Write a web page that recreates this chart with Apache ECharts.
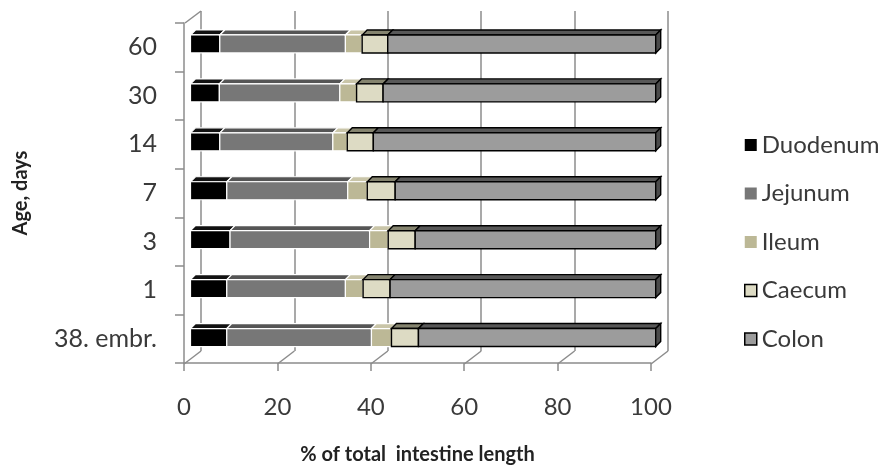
<!DOCTYPE html>
<html><head><meta charset="utf-8">
<script src="https://cdn.jsdelivr.net/npm/echarts@6/dist/echarts.min.js"></script>
<style>html,body{margin:0;padding:0;background:#fff}#c{width:885px;height:470px}</style>
</head><body><div id="c"></div>
<script>
// ---- data ----
const categories = ['38. embr.', '1', '3', '7', '14', '30', '60'];
const duodenum = [7.8, 7.8, 8.5, 7.8, 6.3, 6.2, 6.3];
const jejunum  = [31.1, 25.5, 30.0, 26.0, 24.3, 25.9, 27.0];
const ileum    = [4.3, 3.8, 4.0, 4.2, 3.1, 3.6, 3.6];
const caecum   = [5.8, 5.8, 5.8, 6.0, 5.6, 5.7, 5.5];
const colon    = [51.0, 57.1, 51.7, 56.0, 60.7, 58.6, 57.6];
const xTicks   = [0, 20, 40, 60, 80, 100];
const seriesNames = ['Duodenum', 'Jejunum', 'Ileum', 'Caecum', 'Colon'];

// ---- styles ----
const FONT = "Lato, 'Open Sans', sans-serif";
const AXIS = '#8c8c8c';
const segStyle = [
  {front: '#000000', top: '#111111', stroke: '#ffffff'},
  {front: '#777777', top: '#555555', stroke: '#ffffff'},
  {front: '#bcb896', top: '#c9c5a8', stroke: '#ffffff'},
  {front: '#dddbc4', top: '#85846f', stroke: '#000000'},
  {front: '#9c9c9c', top: '#585858', stroke: '#000000', side: '#4a4a4a'}
];
const G0 = {left: 184, right: 234, top: 23, bottom: 106};      // front frame
const G1 = {left: 201, right: 217, top: 11, bottom: 119};      // back wall
const G2 = {left: 190.5, right: 229.3, top: 19.5, bottom: 108}; // bars

const valueSets = [duodenum, jejunum, ileum, caecum, colon];
const starts = categories.map(() => 0);
const segData = valueSets.map(vals => vals.map((v, i) => {
  const s = starts[i]; starts[i] = s + v; return [s, s + v, i];
}));

function makeRender(k) {
  const st = segStyle[k];
  return function (params, api) {
    const s = api.value(0), e = api.value(1), c = api.value(2);
    const p0 = api.coord([s, c]), p1 = api.coord([e, c]);
    const h = 18, dx = 5, dy = 5;
    const yT = p0[1] - h / 2, yB = p0[1] + h / 2;
    const x0 = p0[0], x1 = p1[0];
    const lw = st.stroke === '#000000' ? 1.4 : 1.2;
    const children = [
      {type: 'polygon', shape: {points: [[x0, yT], [x1, yT], [x1 + dx, yT - dy], [x0 + dx, yT - dy]]},
       style: {fill: st.top, stroke: st.stroke, lineWidth: lw}},
      {type: 'rect', shape: {x: x0, y: yT, width: x1 - x0, height: h},
       style: {fill: st.front, stroke: st.stroke, lineWidth: lw}}
    ];
    if (st.side) {
      children.push({type: 'polygon', shape: {points: [[x1, yT], [x1 + dx, yT - dy], [x1 + dx, yB - dy], [x1, yB]]},
        style: {fill: st.side, stroke: '#000000', lineWidth: lw}});
    }
    return {type: 'group', children};
  };
}

const chart = echarts.init(document.getElementById('c'), null, {renderer: 'canvas'});
const option = {
  backgroundColor: '#ffffff',
  animation: false,
  grid: [
    Object.assign({containLabel: false}, G0),
    Object.assign({containLabel: false}, G1),
    Object.assign({containLabel: false}, G2)
  ],
  xAxis: [
    {gridIndex: 0, type: 'value', min: 0, max: 100, interval: 20,
     axisLine: {show: true, lineStyle: {color: AXIS, width: 1.5}},
     axisTick: {show: true, inside: false, length: 8, lineStyle: {color: AXIS, width: 1.5}},
     axisLabel: {show: true, margin: 32, fontSize: 24, fontFamily: FONT, color: '#3a3a3a'},
     splitLine: {show: false},
     name: '% of total  intestine length', nameLocation: 'middle', nameGap: 82,
     nameTextStyle: {fontSize: 20, fontWeight: 'bold', fontFamily: FONT, color: '#222'}},
    {gridIndex: 1, type: 'value', min: 0, max: 100, interval: 20,
     axisLine: {show: false}, axisTick: {show: false}, axisLabel: {show: false},
     splitLine: {show: true, lineStyle: {color: AXIS, width: 1.5}}},
    {gridIndex: 2, type: 'value', min: 0, max: 100, interval: 20, show: false, splitLine: {show: false}}
  ],
  yAxis: [
    {gridIndex: 0, type: 'category', data: categories,
     axisLine: {show: true, lineStyle: {color: AXIS, width: 1.5}},
     axisTick: {show: true, inside: false, length: 9, lineStyle: {color: AXIS, width: 1.5}},
     axisLabel: {margin: 27, fontSize: 25, fontFamily: FONT, color: '#3a3a3a', padding: [6, 0, 0, 0]},
     splitLine: {show: false},
     name: 'Age, days', nameLocation: 'middle', nameGap: 153, nameRotate: 90,
     nameTextStyle: {fontSize: 20, fontWeight: 'bold', fontFamily: FONT, color: '#222'}},
    {gridIndex: 1, type: 'value', show: false, splitLine: {show: false}},
    {gridIndex: 2, type: 'category', data: categories, show: false}
  ],
  legend: {
    left: 744, top: 133, orient: 'vertical', padding: 0,
    itemWidth: 12, itemHeight: 12, itemGap: 24.5,
    icon: 'rect',
    textStyle: {fontSize: 24, lineHeight: 24, fontFamily: FONT, color: '#3a3a3a'},
    data: seriesNames.map((n, k) => ({name: n, itemStyle: {color: segStyle[k].front,
      borderColor: k >= 3 ? '#000' : segStyle[k].front, borderWidth: k >= 3 ? 1.5 : 0}}))
  },
  series: seriesNames.map((n, k) => ({
    name: n, type: 'custom', xAxisIndex: 2, yAxisIndex: 2,
    itemStyle: {color: segStyle[k].front},
    encode: {x: [0, 1], y: 2},
    renderItem: makeRender(k),
    data: segData[k]
  }))
};
chart.setOption(option);

// 3D floor / wall connector lines, from the two axes' own scales
const frontY = 470 - G0.bottom, backY = 470 - G1.bottom;
const lines = xTicks.map(v => {
  const xf = chart.convertToPixel({xAxisIndex: 0}, v);
  const xb = chart.convertToPixel({xAxisIndex: 1}, v);
  return {type: 'line', shape: {x1: xf, y1: frontY, x2: xb, y2: backY},
          style: {stroke: AXIS, lineWidth: 1.5}, z: 0};
});
const xf0 = chart.convertToPixel({xAxisIndex: 0}, 0);
const xb0 = chart.convertToPixel({xAxisIndex: 1}, 0);
lines.push({type: 'line', shape: {x1: xf0 + 1, y1: G0.top, x2: xb0, y2: G1.top},
            style: {stroke: AXIS, lineWidth: 1.5}, z: 0});
chart.setOption({graphic: lines});
</script></body></html>
